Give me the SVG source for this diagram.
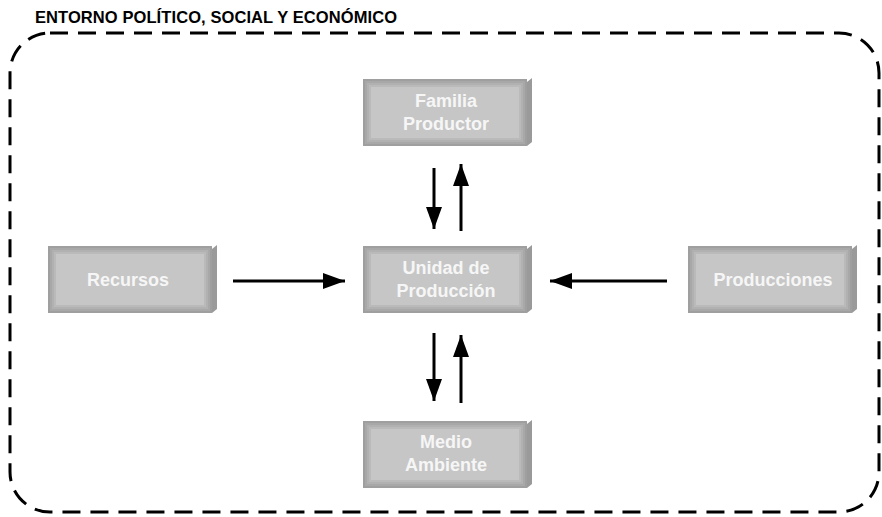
<svg xmlns="http://www.w3.org/2000/svg" width="882" height="517" viewBox="0 0 882 517">
<style>
.title{font-family:"Liberation Sans",Arial,sans-serif;font-weight:bold;font-size:16.5px;fill:#000}
.lbl{font-family:"Liberation Sans",Arial,sans-serif;font-weight:bold;font-size:18px;fill:#f6f6f6;text-anchor:middle}
.b0{fill:#9f9f9f}.b1{fill:#a8a8a8}.b2{fill:#b1b1b1}.b3{fill:#bababa}.b4{fill:#c6c6c6}
.side{fill:#9a9a9a}
.conn line{stroke:#000;stroke-width:3}
.env{fill:none;stroke:#000;stroke-width:3;stroke-dasharray:18 10}
</style>
<defs>
<marker id="ah" viewBox="0 0 22 16" refX="22" refY="8" markerWidth="22" markerHeight="16" markerUnits="userSpaceOnUse" orient="auto">
<path d="M0,0 L22,8 L0,16 Z" fill="#000"/>
</marker>
<g id="box">
<rect class="b0" x="0" y="0" width="164" height="67"/>
<rect class="b1" x="2" y="2" width="160" height="63"/>
<rect class="b2" x="4" y="4" width="156" height="59"/>
<rect class="b3" x="6" y="6" width="152" height="55"/>
<rect class="b4" x="8" y="8" width="148" height="51"/>
<polygon class="side" points="164,3 169,-1 169,63 164,67"/>
</g>
</defs>
<text class="title" x="35" y="23" textLength="362" lengthAdjust="spacing">ENTORNO POLÍTICO, SOCIAL Y ECONÓMICO</text>
<rect class="env" x="10" y="33" width="869" height="479" rx="40" ry="40"/>
<g id="familia"><use href="#box" x="363" y="79"/><text class="lbl" x="446" y="107">Familia</text><text class="lbl" x="446" y="130">Productor</text></g>
<g id="recursos"><use href="#box" x="48" y="246"/><text class="lbl" x="128" y="286">Recursos</text></g>
<g id="unidad"><use href="#box" x="363" y="246"/><text class="lbl" x="446" y="274">Unidad de</text><text class="lbl" x="446" y="297">Producción</text></g>
<g id="producciones"><use href="#box" x="688" y="246"/><text class="lbl" x="773" y="286">Producciones</text></g>
<g id="medio"><use href="#box" x="363" y="421"/><text class="lbl" x="446" y="448">Medio</text><text class="lbl" x="446" y="471">Ambiente</text></g>
<g class="conn">
<line x1="233" y1="281" x2="345" y2="281" marker-end="url(#ah)"/>
<line x1="667" y1="281" x2="550" y2="281" marker-end="url(#ah)"/>
<line x1="434" y1="168" x2="434" y2="229" marker-end="url(#ah)"/>
<line x1="461" y1="231" x2="461" y2="164" marker-end="url(#ah)"/>
<line x1="434" y1="333" x2="434" y2="401" marker-end="url(#ah)"/>
<line x1="461" y1="403" x2="461" y2="335" marker-end="url(#ah)"/>
</g>
</svg>
